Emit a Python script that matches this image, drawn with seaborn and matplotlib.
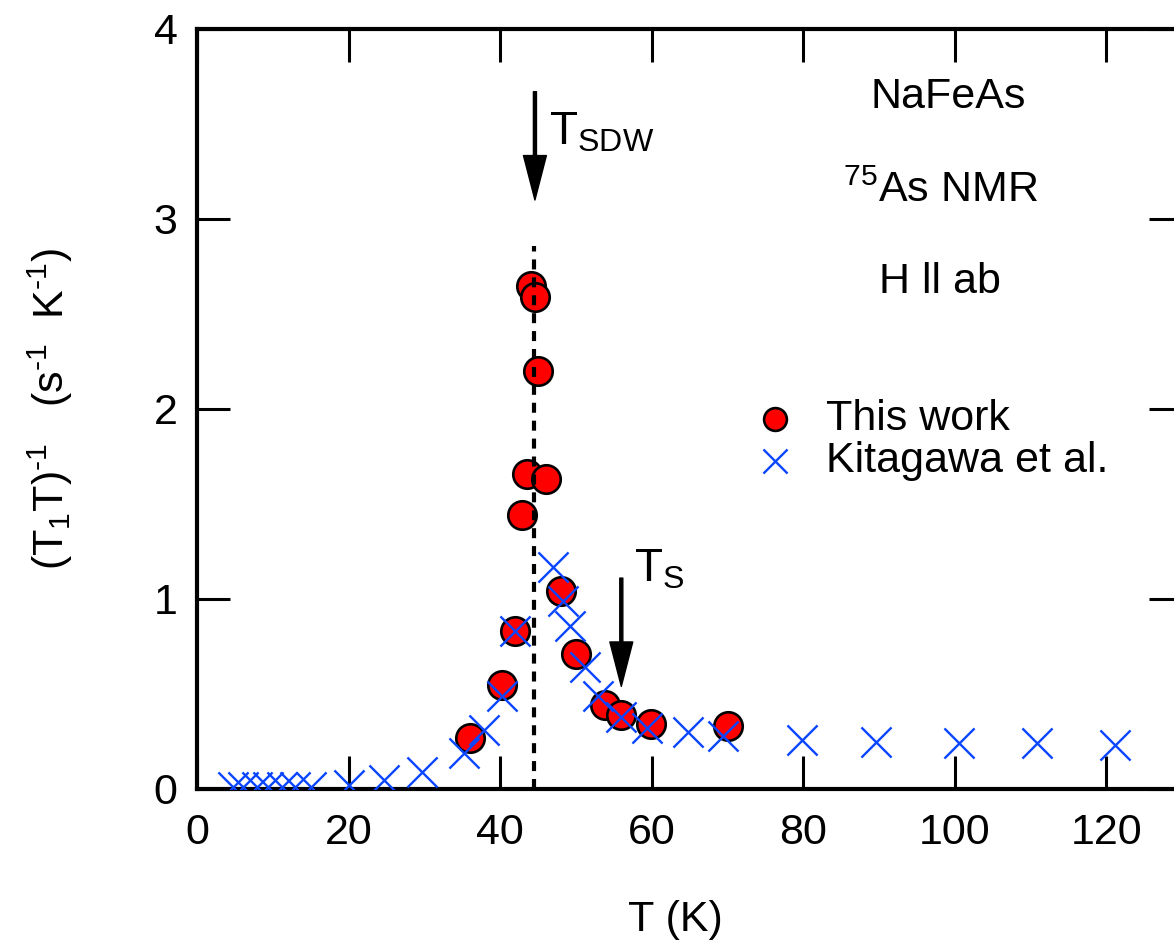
import matplotlib
matplotlib.use("Agg")
import matplotlib.pyplot as plt
import seaborn as sns
import pandas as pd

# 75As NMR (T1T)^-1 of NaFeAs, H || ab
this_work_T = [36.0, 40.3, 42.0, 42.9, 43.6, 44.1, 44.6, 45.0, 46.1, 48.1,
               50.0, 53.9, 56.0, 59.9, 70.1]
this_work_rate = [0.27, 0.55, 0.83, 1.44, 1.66, 2.65, 2.59, 2.20, 1.63, 1.04,
                  0.71, 0.44, 0.39, 0.34, 0.33]

kitagawa_T = [4.75, 6.1, 7.9, 9.4, 11.2, 12.9, 15.0, 20.1, 24.7, 29.7,
              35.2, 37.9, 40.3, 42.0, 47.0, 48.3, 49.2, 51.2, 52.9, 56.0,
              59.4, 64.8, 69.4, 79.9, 89.6, 100.6, 110.8, 121.2]
kitagawa_rate = [0.01, 0.01, 0.01, 0.01, 0.01, 0.01, 0.01, 0.02, 0.047, 0.09,
                 0.19, 0.31, 0.49, 0.83, 1.17, 0.99, 0.86, 0.64, 0.49, 0.38,
                 0.32, 0.30, 0.28, 0.26, 0.25, 0.24, 0.24, 0.23]

T_sdw = 44.5
T_s = 56.0
peak_line_top = 2.86

x_ticks = [0, 20, 40, 60, 80, 100, 120]
y_ticks = [0, 1, 2, 3, 4]

sns.set_style("ticks")
plt.rcParams["font.family"] = ["Liberation Sans", "DejaVu Sans"]
plt.rcParams["mathtext.fontset"] = "custom"
plt.rcParams["mathtext.rm"] = "Liberation Sans"
plt.rcParams["mathtext.it"] = "Liberation Sans:italic"
plt.rcParams["mathtext.bf"] = "Liberation Sans:bold"
plt.rcParams["text.color"] = "black"
plt.rcParams["axes.labelcolor"] = "black"

FS = 31
BLUE = "#0a46ff"

fig = plt.figure(figsize=(11.74, 9.41), dpi=100)
ax = fig.add_axes([197 / 1174, 152 / 941, 985 / 1174, 760 / 941])

df_red = pd.DataFrame({"T": this_work_T, "rate": this_work_rate})
df_blue = pd.DataFrame({"T": kitagawa_T, "rate": kitagawa_rate})

sns.scatterplot(data=df_red, x="T", y="rate", ax=ax, marker="o", s=420,
                color="#ff0000", edgecolor="black", linewidth=1.9,
                zorder=3, label="This work", legend=False)
sns.scatterplot(data=df_blue, x="T", y="rate", ax=ax, marker="x", s=470,
                color=BLUE, linewidth=1.7, zorder=4,
                label="Kitagawa et al.", legend=False)

# dashed marker of the SDW transition
ax.plot([T_sdw, T_sdw], [0, peak_line_top], color="black", lw=3,
        linestyle=(0, (2.4, 1.9)), zorder=5)

arrow_kw = dict(width=2.2, headwidth=16.5, headlength=32, shrink=0,
                facecolor="black", edgecolor="black")
ax.annotate("", xy=(44.6, 3.10), xytext=(44.6, 3.67), arrowprops=arrow_kw)
ax.annotate("", xy=(T_s, 0.54), xytext=(T_s, 1.11), arrowprops=arrow_kw)
ax.text(46.5, 3.39, r"$\mathrm{T_{SDW}}$", fontsize=FS + 2, ha="left",
        va="baseline")
ax.text(57.7, 1.09, r"$\mathrm{T_{S}}$", fontsize=FS + 2, ha="left",
        va="baseline")

ax.text(99.1, 3.64, "NaFeAs", fontsize=FS, ha="center", va="center")
ax.text(98.1, 3.15, r"$^{75}$As NMR", fontsize=FS, ha="center", va="center")
ax.text(98.1, 2.67, "H ll ab", fontsize=FS, ha="center", va="center")

ax.set_xlim(0, 130)
ax.set_ylim(0, 4)
ax.set_xticks(x_ticks)
ax.set_yticks(y_ticks)
ax.tick_params(axis="both", which="major", direction="in", length=24,
               width=2.2, labelsize=FS, top=True, right=True, colors="black")
ax.tick_params(axis="x", pad=17)
ax.tick_params(axis="y", pad=14)
for sp in ax.spines.values():
    sp.set_visible(True)
    sp.set_linewidth(3)
    sp.set_color("black")

ax.set_xlabel("T (K)", fontsize=FS)
ax.xaxis.set_label_coords(0.486, -0.172)
ax.xaxis.label.set_verticalalignment("center")
ax.set_ylabel(
    r"$\mathrm{(T_1T)^{\text{-}1}\ \ \ (s^{\text{-}1}\ \ K^{\text{-}1})}$",
    fontsize=FS)
ax.yaxis.set_label_coords(-0.149, 0.5)
ax.yaxis.label.set_verticalalignment("center")

leg = ax.legend(loc="center left",
                bbox_to_anchor=(753 / 1174, 1 - 440 / 941),
                bbox_transform=fig.transFigure, frameon=False,
                fontsize=FS, handlelength=1.0, handletextpad=0.7,
                borderpad=0, borderaxespad=0, labelspacing=0.05,
                markerscale=0.8)

fig.savefig("out.png", dpi=100)
